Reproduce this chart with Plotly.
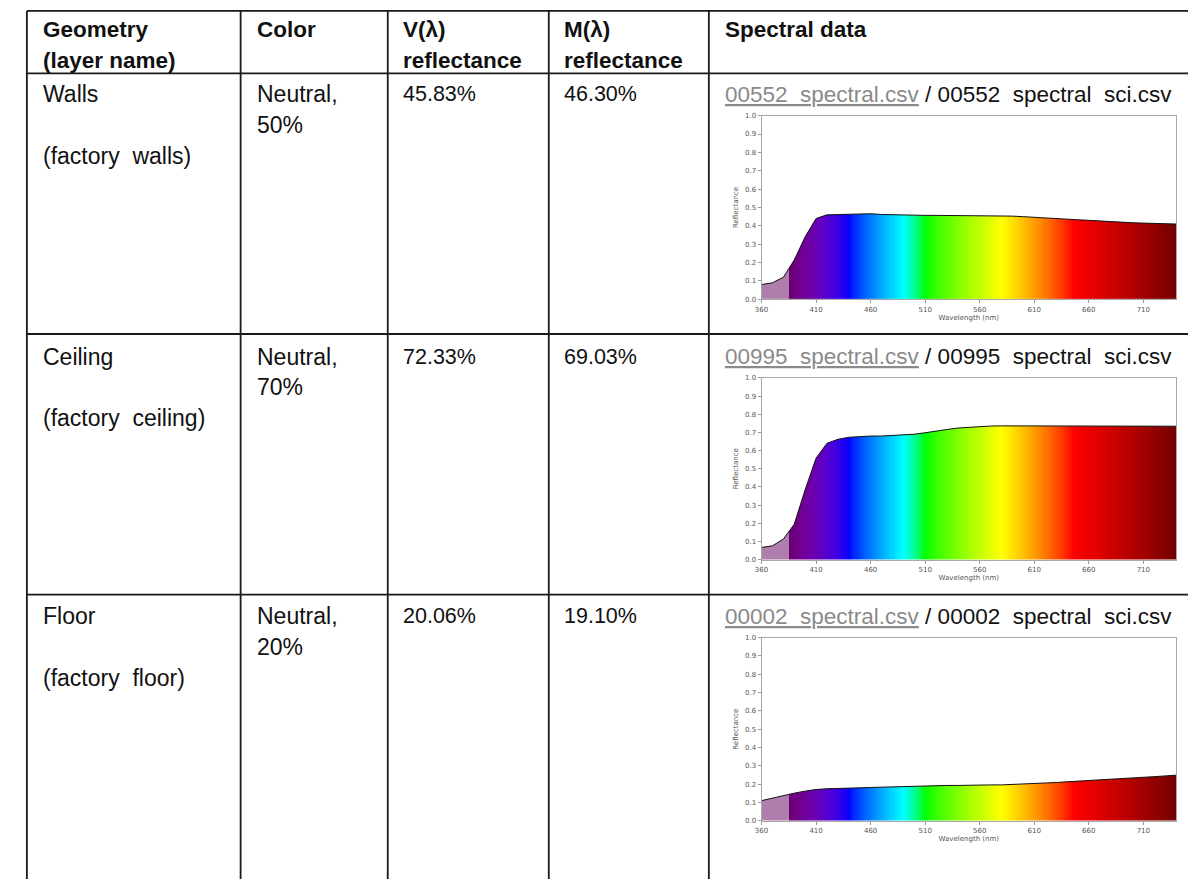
import plotly.graph_objects as go

W, H = 1188, 883

# ---- table content ----
header_lines = [
    ["Geometry", "(layer name)"],
    ["Color"],
    ["V(λ)", "reflectance"],
    ["M(λ)", "reflectance"],
    ["Spectral data"],
]
geometry = ["Walls", "Ceiling", "Floor"]
layer_names = ["(factory  walls)", "(factory  ceiling)", "(factory  floor)"]
color_names = ["Neutral,", "Neutral,", "Neutral,"]
color_levels = ["50%", "70%", "20%"]
v_reflectance = ["45.83%", "72.33%", "20.06%"]
m_reflectance = ["46.30%", "69.03%", "19.10%"]
file_ids = ["00552", "00995", "00002"]

# ---- spectral reflectance curves ----
wavelength = [360, 370, 380, 390, 400, 410, 420, 430, 440, 450, 460, 470, 480,
              490, 500, 510, 520, 530, 540, 550, 560, 570, 580, 590, 600, 610,
              620, 630, 640, 650, 660, 670, 680, 690, 700, 710, 720, 730, 740]
walls_refl = [0.080, 0.090, 0.120, 0.214, 0.340, 0.440, 0.460, 0.462, 0.464, 0.467,
              0.466, 0.462, 0.460, 0.459, 0.459, 0.457, 0.457, 0.457, 0.455, 0.453,
              0.455, 0.457, 0.457, 0.453, 0.450, 0.446, 0.444, 0.439, 0.437, 0.433,
              0.430, 0.426, 0.423, 0.419, 0.417, 0.415, 0.414, 0.412, 0.410]
ceiling_refl = [0.067, 0.076, 0.113, 0.195, 0.385, 0.558, 0.640, 0.662, 0.673, 0.678,
                0.680, 0.680, 0.682, 0.685, 0.690, 0.698, 0.709, 0.716, 0.724, 0.729,
                0.733, 0.735, 0.736, 0.736, 0.736, 0.736, 0.735, 0.735, 0.734, 0.734,
                0.734, 0.734, 0.734, 0.734, 0.734, 0.734, 0.734, 0.734, 0.734]
floor_refl = [0.110, 0.124, 0.139, 0.151, 0.162, 0.171, 0.175, 0.178, 0.180, 0.180,
              0.182, 0.184, 0.186, 0.187, 0.189, 0.191, 0.191, 0.193, 0.193, 0.195,
              0.195, 0.196, 0.196, 0.198, 0.200, 0.202, 0.205, 0.209, 0.213, 0.216,
              0.220, 0.223, 0.227, 0.230, 0.234, 0.238, 0.241, 0.245, 0.249]
curves = [walls_refl, ceiling_refl, floor_refl]

wl_min, wl_max = 360, 740
uv_cut = 385
x_ticks = [360, 410, 460, 510, 560, 610, 660, 710]
y_ticks = [0.0, 0.1, 0.2, 0.3, 0.4, 0.5, 0.6, 0.7, 0.8, 0.9, 1.0]

FONT = "Liberation Sans, Arial, sans-serif"
LINE = "#1a1a1a"


def px_x(v):
    return v / W


def px_y(v):
    return 1 - v / H


def spectrum_rgb(w, gamma=0.8):
    """Approximate visible colour of a wavelength in nm."""
    if w < uv_cut:
        return "rgb(176,126,172)"
    if w <= 440:
        a = 0.3 + 0.7 * (w - 380) / 60
        r, g, b = ((440 - w) / 60 * a) ** gamma, 0.0, a ** gamma
    elif w <= 490:
        r, g, b = 0.0, ((w - 440) / 50) ** gamma, 1.0
    elif w <= 510:
        r, g, b = 0.0, 1.0, ((510 - w) / 20) ** gamma
    elif w <= 580:
        r, g, b = ((w - 510) / 70) ** gamma, 1.0, 0.0
    elif w <= 645:
        r, g, b = 1.0, ((645 - w) / 65) ** gamma, 0.0
    else:
        a = 0.3 + 0.7 * (750 - w) / 105
        r, g, b = a ** gamma, 0.0, 0.0
    return "rgb(%d,%d,%d)" % (round(r * 255), round(g * 255), round(b * 255))


# colour band: one cell per nanometre, stopping below the frame top
band_edges = list(range(wl_min, wl_max + 1))
band_mids = [e + 0.5 for e in band_edges[:-1]]
band_scale = [[(m - wl_min) / (wl_max - wl_min), spectrum_rgb(m)] for m in band_mids]
band_scale[0][0] = 0.0
band_scale[-1][0] = 1.0
band_top = 0.95

# plot-area boxes (pixels): left, right, top, bottom
plot_boxes = [(759, 1176, 112.7, 298.0), (759, 1176, 377.3, 560.7), (759, 1176, 639.3, 824.3)]

fig = go.Figure()
layout_axes = {}
for i, (refl, box) in enumerate(zip(curves, plot_boxes)):
    n = "" if i == 0 else str(i + 1)
    xa, ya = "x" + n, "y" + n
    fig.add_trace(go.Heatmap(
        x=band_edges, y=[0, band_top], z=[band_mids], zmin=wl_min, zmax=wl_max,
        colorscale=band_scale, showscale=False, hoverinfo="skip",
        xaxis=xa, yaxis=ya))
    fig.add_trace(go.Scatter(
        x=wavelength, y=refl, mode="lines", line=dict(width=0, color="black"),
        hoverinfo="skip", xaxis=xa, yaxis=ya))
    fig.add_trace(go.Scatter(
        x=wavelength, y=[band_top + 0.01] * len(wavelength), mode="lines",
        line=dict(width=0), fill="tonexty", fillcolor="white", hoverinfo="skip",
        xaxis=xa, yaxis=ya))
    fig.add_trace(go.Scatter(
        x=wavelength, y=refl, mode="lines", line=dict(width=1, color="#111"),
        xaxis=xa, yaxis=ya))
    l, r, t, b = box
    tick_font = dict(family="DejaVu Sans, sans-serif", size=7, color="#555")
    layout_axes["xaxis" + n] = dict(
        domain=[px_x(l), px_x(r)], anchor=ya, range=[wl_min, wl_max],
        tickvals=x_ticks, ticks="outside", ticklen=3, tickcolor="#999",
        showline=True, mirror=True, linecolor="#a8a8a8", linewidth=1,
        showgrid=False, zeroline=False, tickfont=tick_font,
        title=dict(text="Wavelength (nm)", font=tick_font, standoff=1))
    layout_axes["yaxis" + n] = dict(
        domain=[px_y(b), px_y(t)], anchor=xa, range=[0, 1],
        tickvals=y_ticks, tickformat=".1f", ticks="outside", ticklen=3,
        tickcolor="#999", showline=True, mirror=True, linecolor="#a8a8a8",
        linewidth=1, showgrid=False, zeroline=False, tickfont=tick_font,
        title=dict(text="Reflectance", font=tick_font, standoff=5))

# ---- table grid ----
col_x = [20, 235, 383, 545, 706]
row_y = [7, 70, 333, 596]
shapes = []
for x in col_x:
    shapes.append(dict(type="line", xref="paper", yref="paper",
                       x0=px_x(x), x1=px_x(x), y0=px_y(row_y[0]), y1=0,
                       line=dict(color=LINE, width=1.8)))
for y in row_y:
    shapes.append(dict(type="line", xref="paper", yref="paper",
                       x0=px_x(col_x[0]), x1=1, y0=px_y(y), y1=px_y(y),
                       line=dict(color=LINE, width=1.8)))

text_x = [34, 249, 396, 558, 720]
annotations = []


def add_text(text, x, y, size=23, color="#111", bold=False):
    annotations.append(dict(
        text=("<b>%s</b>" % text) if bold else text,
        xref="paper", yref="paper", x=px_x(x), y=px_y(y),
        xanchor="left", yanchor="middle", showarrow=False,
        font=dict(family=FONT, size=size, color=color)))


for c, lines in enumerate(header_lines):
    for k, line in enumerate(lines):
        add_text(line, text_x[c], 26 + 31 * k, size=22.5, bold=True)

row_top = [91, 356, 618]
for i in range(3):
    y0 = row_top[i]
    add_text(geometry[i], text_x[0], y0)
    add_text(layer_names[i].replace("  ", "\u00a0 "), text_x[0], y0 + 62)
    add_text(color_names[i], text_x[1], y0)
    add_text(color_levels[i], text_x[1], y0 + 31)
    add_text(v_reflectance[i], text_x[2], y0, size=21.5)
    add_text(m_reflectance[i], text_x[3], y0, size=21.5)
    fid = file_ids[i]
    add_text("<span style='color:#8a8a8a'><u>%s\u00a0 spectral.csv</u></span> / "
             "%s\u00a0 spectral\u00a0 sci.csv" % (fid, fid),
             text_x[4], y0, size=22.5)

fig.update_layout(
    width=W, height=H, margin=dict(l=0, r=0, t=0, b=0),
    paper_bgcolor="white", plot_bgcolor="white", showlegend=False,
    shapes=shapes, annotations=annotations, **layout_axes)

fig.write_html("out.html", post_script="document.body.style.margin='0';")
